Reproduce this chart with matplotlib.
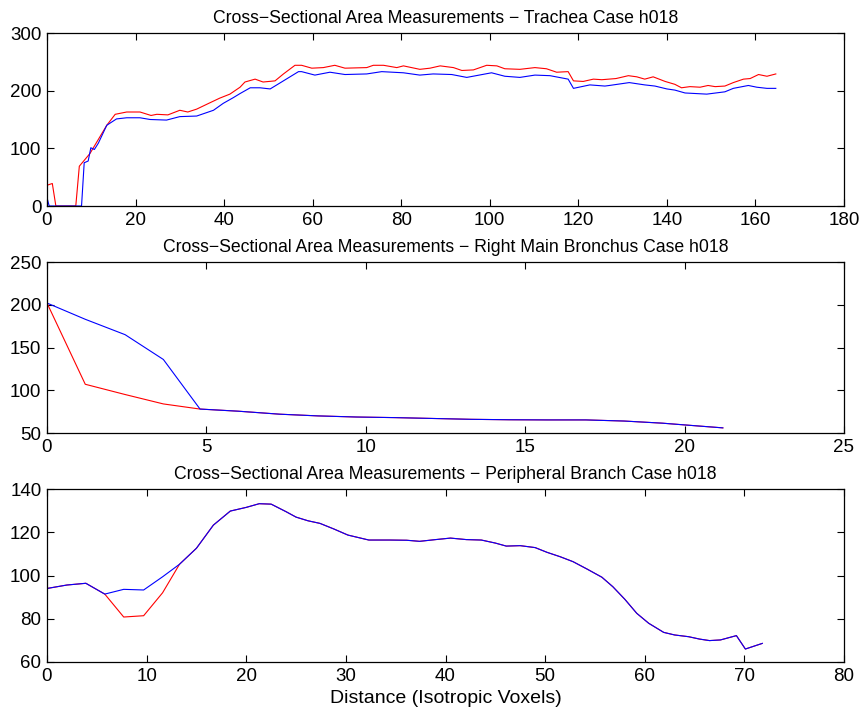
import matplotlib

matplotlib.use("Agg")

import matplotlib.pyplot as plt

# Trachea (top panel)
trachea_x_red = [
    0, 1.2, 2.0, 6.5, 7.3, 9.7, 13.5, 15.4, 18, 21,
    23.5, 24.8, 27.3, 30, 31.8, 33.8, 36.8, 39, 41.3, 43.6,
    44.7, 47, 48.8, 51.5, 53.4, 56, 57.5, 59.8, 62.4, 65,
    67.3, 72.2, 73.7, 76, 79, 80.5, 84.2, 86.5, 88.8, 91.8,
    93.7, 96.3, 99.3, 101.6, 103.4, 106.8, 110.2, 112.8, 115.1, 117.7,
    118.9, 121.1, 123.4, 125.3, 128.5, 131.3, 133.2, 135, 136.9, 139.6,
    141.8, 143.3, 145.2, 147.5, 149.3, 150.9, 153.1, 155, 157.3, 158.8,
    160.7, 162.6, 164.6,
]
trachea_red = [
    36, 39, 0, 0, 69, 91, 140, 159, 163, 163,
    157, 159, 158, 166, 163, 168, 179, 187, 194, 206,
    215, 220, 215, 217, 229, 244, 244, 239, 240, 244,
    239, 240, 244, 244, 240, 243, 237, 239, 243, 240,
    235, 236, 244, 243, 238, 237, 240, 238, 232, 233,
    217, 216, 220, 219, 221, 226, 224, 220, 224, 216,
    211, 205, 207, 206, 209, 207, 208, 214, 220, 221,
    228, 225, 229,
]
trachea_x_blue = [
    0, 0.5, 7.8, 8.4, 9.3, 9.9, 10.7, 11.6, 13.5, 15.7,
    18, 21, 23.3, 27, 30, 33.8, 37.6, 39.8, 42.1, 43.6,
    45.9, 48.1, 50.4, 51.9, 56.8, 57.5, 60.5, 63.9, 67.3, 72.2,
    75.6, 80.5, 84.2, 87.2, 91.4, 94.8, 100.4, 103.4, 106.8, 110.2,
    113.6, 117.7, 118.9, 122.6, 126, 127, 131.5, 135, 137.3, 140,
    141.8, 144.1, 149, 153.1, 155, 158.4, 160.3, 162.6, 164.6,
]
trachea_blue = [
    14, 0, 0, 75, 78, 101, 98, 109, 140, 151,
    153, 153, 150, 149, 155, 156, 166, 178, 188, 195,
    205, 205, 203, 210, 233, 233, 227, 232, 228, 229,
    233, 231, 227, 229, 228, 223, 231, 225, 223, 227,
    226, 220, 204, 210, 208, 209, 214, 210, 208, 203,
    201, 196, 194, 198, 204, 209, 206, 204, 204,
]

# Right main bronchus (middle panel)
bronchus_x = [
    0, 1.2, 2.45, 3.65, 4.8, 6.0, 7.3, 8.5, 9.7, 10.9,
    12.1, 13.3, 14.5, 15.7, 16.9, 18.1, 19.3, 20.5, 21.2,
]
bronchus_red = [
    202, 107, 95, 84, 78, 75.5, 72, 70, 68.7, 68,
    67, 66, 65.5, 65.3, 65.3, 64, 61.5, 58, 56,
]
bronchus_blue = [
    202, 183, 165, 136, 78, 75.5, 72, 70, 68.7, 68,
    67, 66, 65.5, 65.3, 65.3, 64, 61.5, 58, 56,
]

# Peripheral branch (bottom panel)
peripheral_x = [
    0, 2.0, 3.9, 5.8, 7.7, 9.7, 11.6, 13.3, 15.0, 16.7,
    18.4, 20.0, 21.3, 22.5, 24.0, 25.0, 26.2, 27.4, 28.8, 30.2,
    32.3, 34.4, 36.1, 37.4, 39.0, 40.5, 42.1, 43.6, 45.0, 46.1,
    47.5, 49.0, 50.2, 51.5, 52.8, 54.2, 55.7, 56.8, 58.0, 59.2,
    60.4, 61.9, 63.0, 64.4, 65.5, 66.5, 67.6, 69.2, 70.1, 71.8,
]
peripheral_red = [
    94, 95.6, 96.4, 91.4, 80.8, 81.4, 92, 105.2, 112.6, 123.3,
    129.8, 131.5, 133.2, 133, 129.5, 127, 125.3, 124.1, 121.5, 118.7,
    116.4, 116.4, 116.3, 115.8, 116.6, 117.3, 116.6, 116.4, 115, 113.6,
    113.8, 112.9, 110.7, 108.7, 106.4, 103, 99.2, 94.8, 89, 82.5,
    77.9, 73.7, 72.5, 71.7, 70.6, 69.9, 70.2, 72.2, 66.0, 68.6,
]
peripheral_blue = [
    94, 95.6, 96.4, 91.4, 93.6, 93.3, 99.4, 105.2, 112.6, 123.3,
    129.8, 131.5, 133.2, 133, 129.5, 127, 125.3, 124.1, 121.5, 118.7,
    116.4, 116.4, 116.3, 115.8, 116.6, 117.3, 116.6, 116.4, 115, 113.6,
    113.8, 112.9, 110.7, 108.7, 106.4, 103, 99.2, 94.8, 89, 82.5,
    77.9, 73.7, 72.5, 71.7, 70.6, 69.9, 70.2, 72.2, 66.0, 68.6,
]

case_name = "h018"

plt.rcParams["font.family"] = ["Liberation Sans", "DejaVu Sans"]

fig = plt.figure(figsize=(8.61, 7.13), dpi=100)

left = 47 / 861
width = 797 / 861

panels = [
    {
        "rect": [left, 507 / 713, width, 173 / 713],
        "title": "Trachea",
        "red": (trachea_x_red, trachea_red),
        "blue": (trachea_x_blue, trachea_blue),
        "xlim": (0, 180),
        "xticks": range(0, 181, 20),
        "ylim": (0, 300),
        "yticks": range(0, 301, 100),
    },
    {
        "rect": [left, 280 / 713, width, 171 / 713],
        "title": "Right Main Bronchus",
        "red": (bronchus_x, bronchus_red),
        "blue": (bronchus_x, bronchus_blue),
        "xlim": (0, 25),
        "xticks": range(0, 26, 5),
        "ylim": (50, 250),
        "yticks": range(50, 251, 50),
    },
    {
        "rect": [left, 51 / 713, width, 173 / 713],
        "title": "Peripheral Branch",
        "red": (peripheral_x, peripheral_red),
        "blue": (peripheral_x, peripheral_blue),
        "xlim": (0, 80),
        "xticks": range(0, 81, 10),
        "ylim": (60, 140),
        "yticks": range(60, 141, 20),
    },
]

for panel in panels:
    ax = fig.add_axes(panel["rect"])

    ax.plot(*panel["red"], color="#ff0000", linewidth=0.8)
    ax.plot(*panel["blue"], color="#0000ff", linewidth=0.8)

    ax.set_xlim(*panel["xlim"])
    ax.set_ylim(*panel["ylim"])
    ax.set_xticks(list(panel["xticks"]))
    ax.set_yticks(list(panel["yticks"]))

    ax.set_title(
        f"Cross\u2212Sectional Area Measurements \u2212 {panel['title']} Case {case_name}",
        fontsize=12.7,
        pad=7,
    )

    ax.tick_params(
        direction="in",
        top=True,
        right=True,
        length=5,
        width=0.8,
        labelsize=13.5,
        pad=4,
    )

    for spine in ax.spines.values():
        spine.set_linewidth(0.9)

ax.set_xlabel("Distance (Isotropic Voxels)", fontsize=14, labelpad=4)

fig.savefig("out.png", dpi=100)
plt.close(fig)
